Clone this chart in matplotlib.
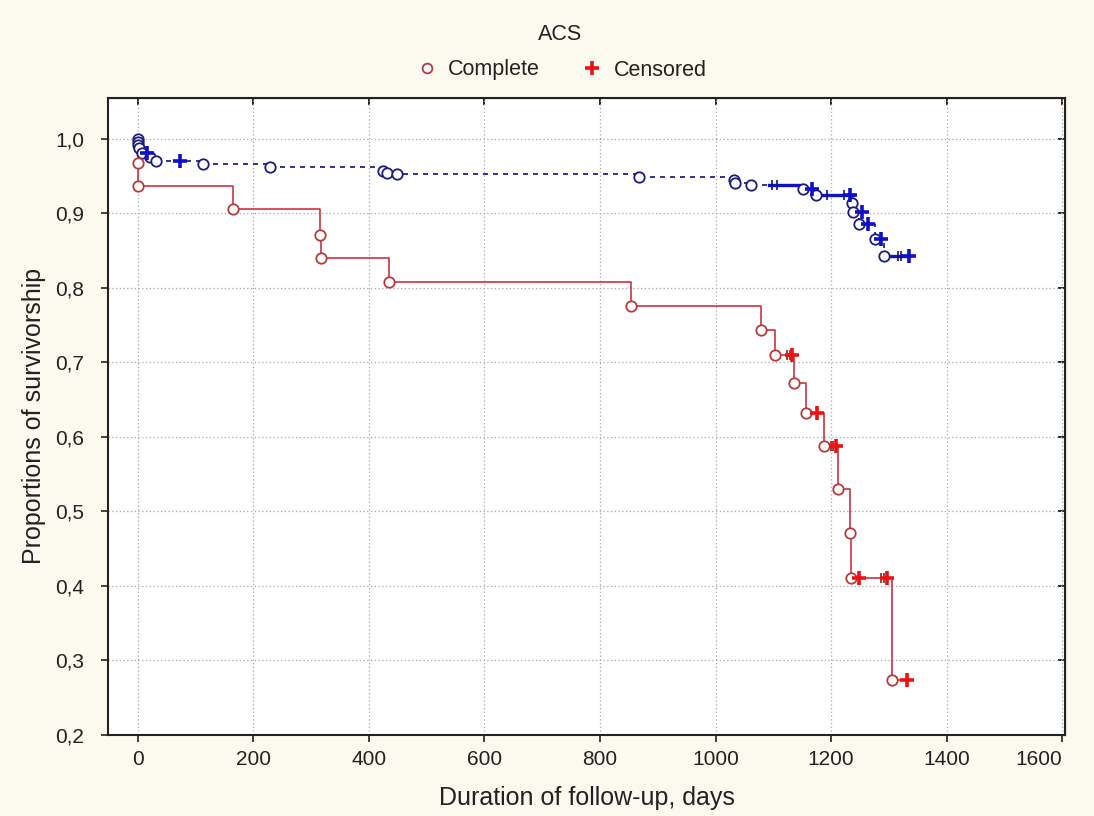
import matplotlib
matplotlib.use("Agg")
import matplotlib.pyplot as plt
from matplotlib.lines import Line2D
from matplotlib.ticker import FuncFormatter

plt.rcParams['font.family'] = ['Liberation Sans', 'DejaVu Sans']

# red group: event times / survival after event
red_event_t = [0, 1, 165, 316, 318, 435, 854, 1078, 1103, 1136, 1157, 1187, 1212, 1232, 1234, 1306]
red_event_s = [0.968, 0.937, 0.905, 0.871, 0.840, 0.808, 0.776, 0.743, 0.710, 0.672, 0.632, 0.588, 0.530, 0.471, 0.411, 0.274]
red_cens_t = [1133, 1176, 1208, 1249, 1297, 1332]
red_cens_s = [0.710, 0.632, 0.588, 0.411, 0.411, 0.274]
red_tick_t = [1124, 1128, 1200, 1204, 1287, 1291]
red_tick_s = [0.710, 0.710, 0.588, 0.588, 0.411, 0.411]
red_end = 1332

# blue group
blue_event_t = [0, 0, 1, 2, 7, 21, 32, 113, 229, 425, 431, 449, 868, 1031, 1033, 1062,
                1152, 1173, 1236, 1238, 1249, 1276, 1291]
blue_event_s = [0.999, 0.995, 0.991, 0.987, 0.981, 0.976, 0.970, 0.966, 0.962, 0.957, 0.954, 0.952,
                0.948, 0.945, 0.941, 0.938, 0.933, 0.925, 0.914, 0.902, 0.886, 0.866, 0.843]
blue_cens_t = [16, 73, 1167, 1232, 1253, 1263, 1287, 1334]
blue_cens_s = [0.981, 0.970, 0.933, 0.925, 0.902, 0.886, 0.866, 0.843]
blue_tick_t = [1097, 1106, 1193, 1222, 1316, 1320]
blue_tick_s = [0.938, 0.938, 0.925, 0.925, 0.843, 0.843]
# stretches with many censored cases (drawn solid)
blue_dense_t0 = [1093, 1173, 1294]
blue_dense_t1 = [1152, 1237, 1334]
blue_dense_s = [0.938, 0.925, 0.843]
blue_end = 1334

x_ticks = [0, 200, 400, 600, 800, 1000, 1200, 1400, 1600]
y_ticks = [0.2, 0.3, 0.4, 0.5, 0.6, 0.7, 0.8, 0.9, 1.0]

red_line = '#cc3340'
red_circ = '#b83a3a'
red_cross = '#ee1111'
blue_line = '#10107a'
blue_circ = '#1c1c78'
blue_cross = '#1010c8'
txt = '#222222'

fig = plt.figure(figsize=(10.94, 8.16), dpi=100, facecolor='#fcf9ef')
ax = fig.add_axes([0.0987, 0.0993, 0.875, 0.781])
ax.set_facecolor('white')

# blue curve
bx = [0] + blue_event_t + [blue_end]
by = [1.0] + blue_event_s + [blue_event_s[-1]]
ax.step(bx, by, where='post', color=blue_line, lw=1.2, linestyle=(0, (3, 3)), zorder=3)
for t0, t1, s in zip(blue_dense_t0, blue_dense_t1, blue_dense_s):
    ax.plot([t0, t1], [s, s], color=blue_cross, lw=2.4, zorder=3)
ax.plot(blue_tick_t, blue_tick_s, '|', color=blue_line, ms=7, mew=1.2, zorder=4)

# red curve
rx = [0] + red_event_t + [red_end]
ry = [1.0] + red_event_s + [red_event_s[-1]]
ax.step(rx, ry, where='post', color=red_line, lw=1.2, zorder=5)
ax.plot(red_tick_t, red_tick_s, '|', color='#8a2020', ms=7, mew=1.2, zorder=6)

ax.plot(blue_event_t, blue_event_s, 'o', ms=7.5, mfc='white', mec=blue_circ, mew=1.3, zorder=7)
ax.plot(blue_cens_t, blue_cens_s, '+', ms=10, mew=2.6, color=blue_cross, zorder=8)
ax.plot(red_event_t, red_event_s, 'o', ms=7.5, mfc='white', mec=red_circ, mew=1.3, zorder=9)
ax.plot(red_cens_t, red_cens_s, '+', ms=10, mew=2.6, color=red_cross, zorder=10)

ax.set_xlim(-51.4, 1605)
ax.set_ylim(0.2, 1.055)
ax.set_xticks(x_ticks)
ax.set_yticks(y_ticks)
ax.yaxis.set_major_formatter(FuncFormatter(lambda v, p: f"{v:.1f}".replace('.', ',')))
ax.tick_params(axis='both', direction='out', length=5, width=1.2, labelsize=15, colors=txt)
ax.tick_params(axis='x', pad=6)
ax.tick_params(axis='y', pad=12)
ax.get_xticklabels()[-1].set_horizontalalignment('right')
ax.grid(True, linestyle=(0, (1, 2)), color='#a8a8a8', lw=0.9)
for sp in ax.spines.values():
    sp.set_linewidth(1.5)
    sp.set_color(txt)

top = ax.secondary_xaxis('top')
top.set_xticks(x_ticks)
top.tick_params(direction='in', length=5, width=1.2, labeltop=False)
right = ax.secondary_yaxis('right')
right.set_yticks(y_ticks)
right.tick_params(direction='in', length=5, width=1.2, labelright=False)

ax.set_xlabel('Duration of follow-up, days', fontsize=18, color=txt, labelpad=12)
ax.set_ylabel('Proportions of survivorship', fontsize=18, color=txt, labelpad=7)

fig.text(0.512, 1 - 35 / 816, 'ACS', ha='center', va='center', fontsize=15.5, color=txt)
handles = [
    Line2D([], [], marker='o', linestyle='none', ms=7, mfc='white', mec=red_circ, mew=1.3),
    Line2D([], [], marker='+', linestyle='none', ms=10, mew=2.6, color=red_cross),
]
fig.legend(handles, ['Complete', 'Censored'], loc='center', bbox_to_anchor=(0.512, 1 - 70 / 816),
           ncol=2, frameon=False, fontsize=15.5, handletextpad=0.4, columnspacing=1.8,
           handlelength=1.2, borderpad=0, labelcolor=txt)

fig.savefig('out.png', dpi=100, facecolor=fig.get_facecolor())
